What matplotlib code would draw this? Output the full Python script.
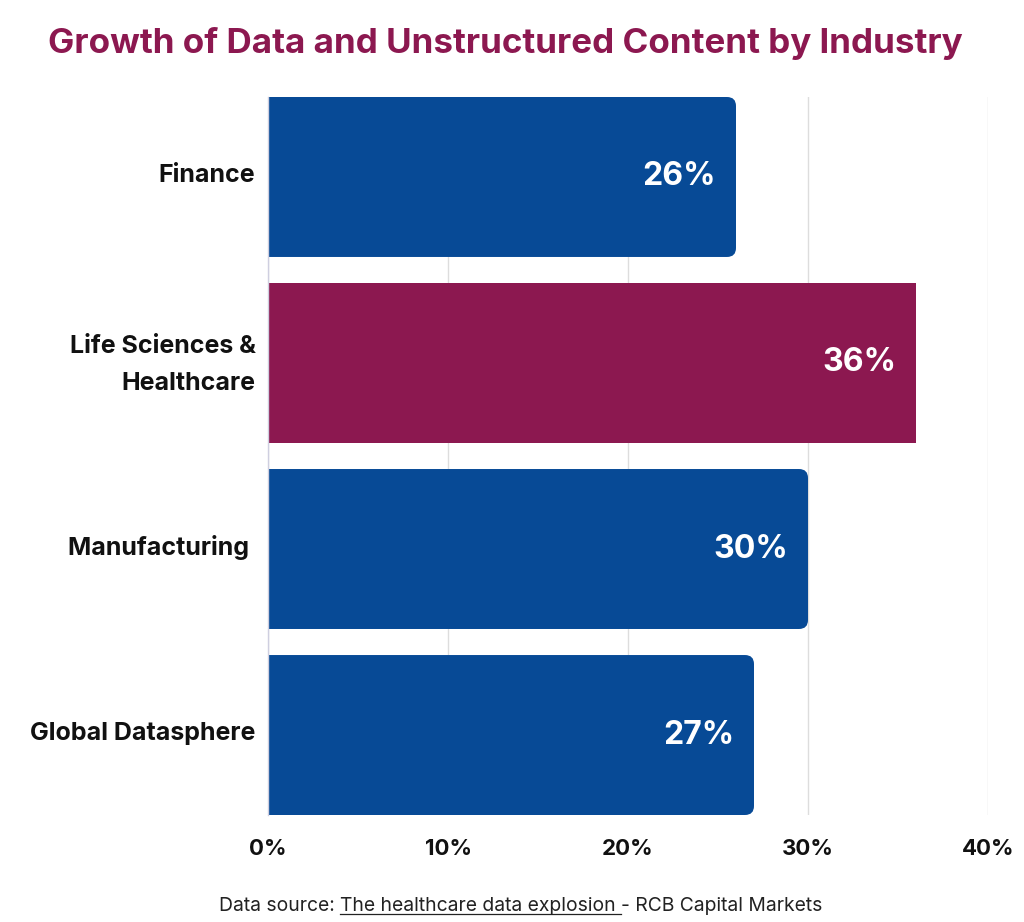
import matplotlib
matplotlib.use("Agg")
import matplotlib.pyplot as plt
import matplotlib.transforms as mtransforms
from matplotlib.patches import FancyBboxPatch
from matplotlib.ticker import FuncFormatter

categories = ["Finance", "Life Sciences &\nHealthcare", "Manufacturing ", "Global Datasphere"]
values = [26, 36, 30, 27]
highlight = [False, True, False, False]
xticks = [0, 10, 20, 30, 40]

BLUE = "#074A96"
MAGENTA = "#8C1850"
FONT = ["Inter", "DejaVu Sans"]
plt.rcParams["font.family"] = FONT

W, H = 1024, 922
fig = plt.figure(figsize=(W / 100, H / 100), dpi=100)
L, R, T, B = 268, 988, 97, 815
ax = fig.add_axes([L / W, 1 - B / H, (R - L) / W, (B - T) / H])

bar_h = 0.86
ypos = list(range(len(categories)))
bars = ax.barh(ypos, values, height=bar_h,
               color=[MAGENTA if h else BLUE for h in highlight], zorder=2)
ax.set_xlim(0, 40)
ax.set_ylim(len(categories) - 1 + bar_h / 2, -bar_h / 2)

# rounded right corners on the non-highlighted bars
px_x = 40 / (R - L)
px_y = (len(categories) - 1 + bar_h) / (B - T)
radius_px = 9
for bar, h in zip(bars, highlight):
    if h:
        continue
    x, y = bar.get_x(), bar.get_y()
    w, hh = bar.get_width(), bar.get_height()
    bar.set_visible(False)
    p = FancyBboxPatch((x - 2, y), w + 2, hh,
                       boxstyle=f"round,pad=0,rounding_size={radius_px * px_x}",
                       mutation_aspect=px_y / px_x,
                       facecolor=bar.get_facecolor(), edgecolor="none", zorder=2)
    ax.add_patch(p)

for yv, v in zip(ypos, values):
    ax.text(v - 20 * px_x, yv, f"{v}%", ha="right", va="center", color="white",
            fontsize=23, fontweight="bold", zorder=3)

ax.set_xticks(xticks)
ax.xaxis.set_major_formatter(FuncFormatter(lambda v, p: f"{int(v)}%"))
ax.set_yticks(ypos)
ax.set_yticklabels(categories, fontsize=18, fontweight="bold", linespacing=1.75)
for t in ax.get_xticklabels():
    t.set_fontsize(16)
    t.set_fontweight("bold")
ax.tick_params(axis="both", length=0, colors="#111111")
ax.tick_params(axis="x", pad=17)
ax.tick_params(axis="y", pad=9)
for t in ax.get_yticklabels():
    dy = -7 if "\n" in t.get_text() else -4
    t.set_transform(t.get_transform() + mtransforms.ScaledTranslation(0, -dy / 100, fig.dpi_scale_trans))
ax.grid(axis="x", color="#dddddd", linewidth=1, zorder=0)
for s in ["top", "right", "bottom"]:
    ax.spines[s].set_visible(False)
ax.spines["left"].set_color("#cfcfe0")
ax.spines["left"].set_linewidth(1)

fig.text(505 / W, 1 - 43 / H, "Growth of Data and Unstructured Content by Industry",
         ha="center", va="center", fontsize=25.2, fontweight="bold", color=MAGENTA)

# footer with underlined link text
y_f = 1 - 906 / H
fs = 13.9
t1 = fig.text(219 / W, y_f, "Data source: ", ha="left", va="center", fontsize=fs, color="#222222")
fig.canvas.draw()
r = fig.canvas.get_renderer()
bb = t1.get_window_extent(r)
t2 = fig.text(bb.x1 / W, y_f, "The healthcare data explosion ", ha="left", va="center",
              fontsize=fs, color="#222222")
bb2 = t2.get_window_extent(r)
fig.lines.append(plt.Line2D([bb2.x0 / W, bb2.x1 / W], [(bb2.y0 + 1) / H] * 2,
                            transform=fig.transFigure, color="#222222", linewidth=0.9))
fig.text(bb2.x1 / W, y_f, "- RCB Capital Markets", ha="left", va="center",
         fontsize=fs, color="#222222")

fig.savefig("out.png", dpi=100, facecolor="white")
